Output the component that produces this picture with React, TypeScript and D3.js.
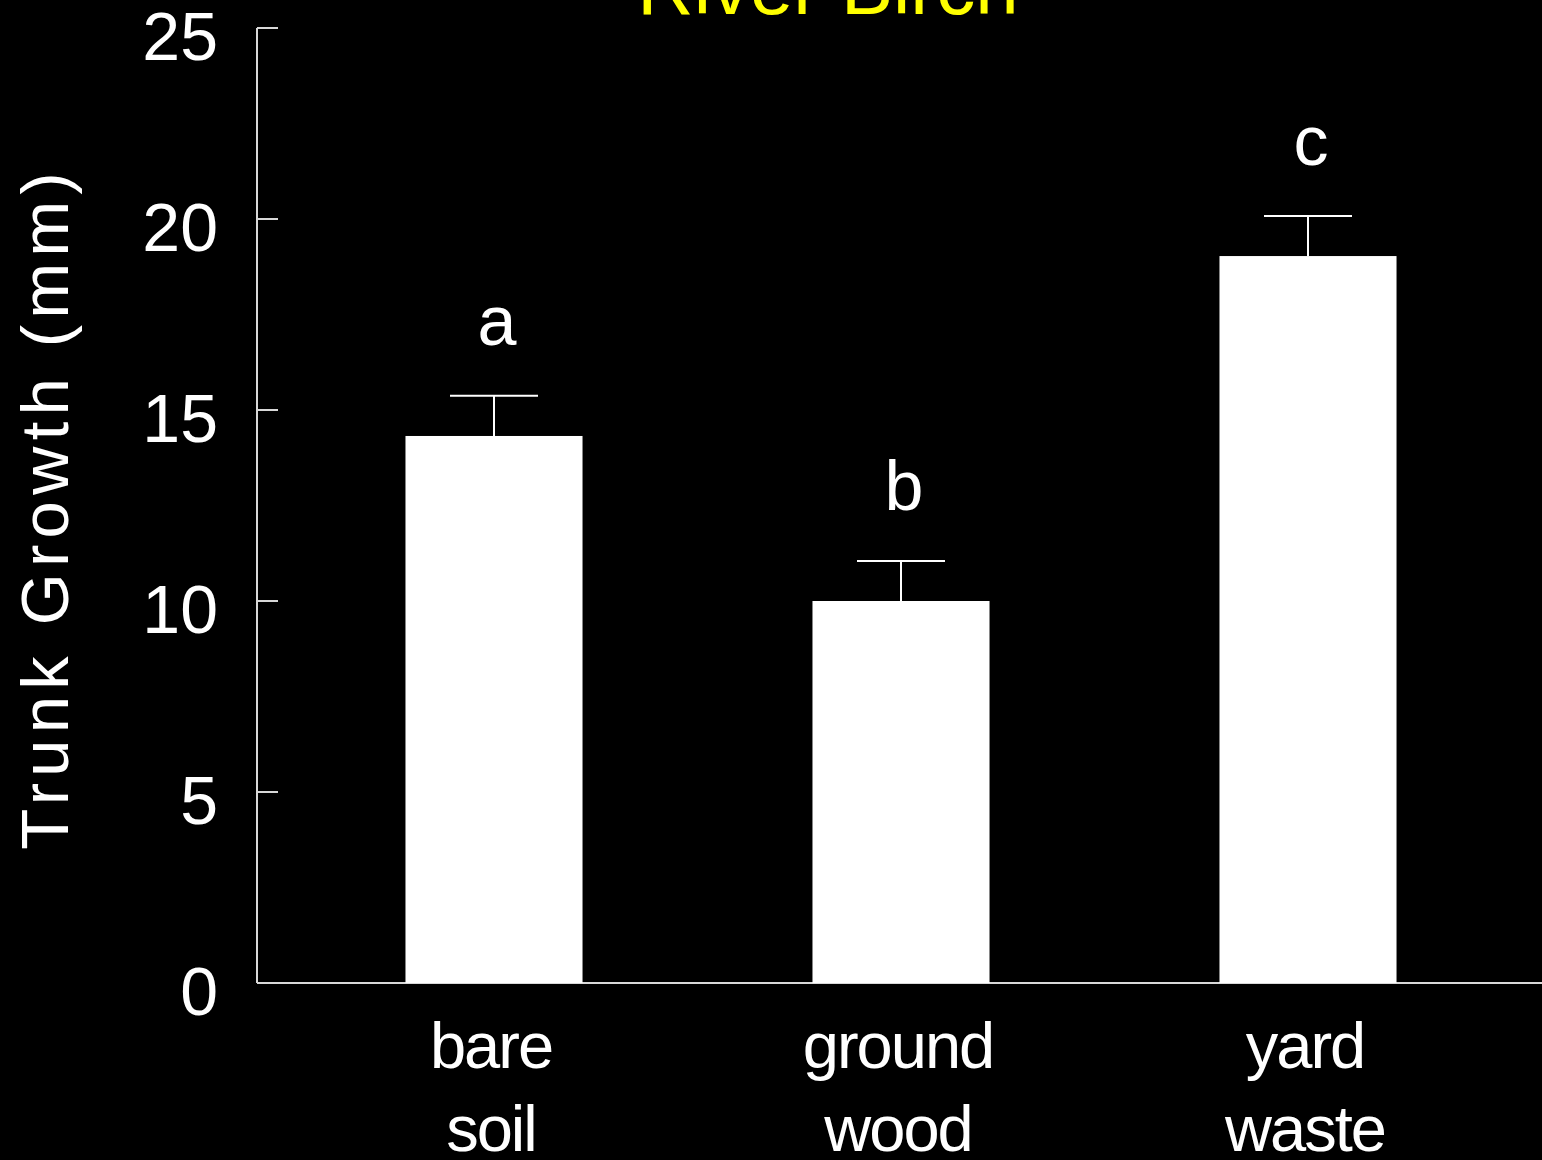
import React from "react";
import * as d3 from "d3";

const categories: string[][] = [["bare", "soil"], ["ground", "wood"], ["yard", "waste"]];
const categoryKeys = ["bare soil", "ground wood", "yard waste"];
const means = [14.32, 10.0, 19.03];
const errors = [1.05, 1.05, 1.05];
const letters = ["a", "b", "c"];
const yTicks = [0, 5, 10, 15, 20, 25];
const title = "River Birch";
const yTitle = "Trunk Growth (mm)";

const W = 1542;
const H = 1160;
const axisX = 257;
const axisY = 983;
const topY = 28;

export default function App() {
  const y = d3.scaleLinear().domain([0, 25]).range([axisY, topY]);
  const x = d3
    .scaleBand<string>()
    .domain(categoryKeys)
    .range([290.5, 1511.5])
    .paddingInner(0.565)
    .paddingOuter(0.2825);
  const bw = x.bandwidth();
  const font = "'Liberation Sans', Arial, Helvetica, sans-serif";
  const axisColor = "#d8d8d8";

  return (
    <svg
      width={W}
      height={H}
      style={{ position: "absolute", left: 0, top: 0, background: "#000", display: "block" }}
      fontFamily={font}
    >
      <rect x={0} y={0} width={W} height={H} fill="#000" />
      <text x={828} y={14} fill="#ffff00" fontSize={78} textAnchor="middle">
        {title}
      </text>
      {/* y axis */}
      <line x1={axisX} x2={axisX} y1={topY} y2={axisY} stroke={axisColor} strokeWidth={2} />
      {yTicks.map((t) => (
        <g key={t}>
          <line x1={axisX} x2={axisX + 21} y1={y(t)} y2={y(t)} stroke={axisColor} strokeWidth={2} />
          <text x={218} y={y(t) + 32} fill="#fff" fontSize={68} textAnchor="end">
            {t}
          </text>
        </g>
      ))}
      {/* x axis */}
      <line x1={axisX} x2={W} y1={axisY} y2={axisY} stroke={axisColor} strokeWidth={2} />
      {/* bars */}
      {categoryKeys.map((k, i) => {
        const x0 = x(k) as number;
        const cx = x0 + bw / 2;
        const top = y(means[i]);
        const eTop = y(means[i] + errors[i]);
        return (
          <g key={k}>
            <rect x={x0} y={top} width={bw} height={axisY - top} fill="#fff" />
            <line x1={cx} x2={cx} y1={top} y2={eTop} stroke="#fff" strokeWidth={2} />
            <line x1={cx - 44} x2={cx + 44} y1={eTop} y2={eTop} stroke="#fff" strokeWidth={2} />
            <text x={cx + 3} y={eTop - 51} fill="#fff" fontSize={70} textAnchor="middle">
              {letters[i]}
            </text>
            {categories[i].map((line, j) => (
              <text
                key={j}
                x={cx - 3}
                y={1068 + j * 83}
                fill="#fff"
                fontSize={65}
                letterSpacing={-2}
                textAnchor="middle"
              >
                {line}
              </text>
            ))}
          </g>
        );
      })}
      {/* y title */}
      <text
        transform={`translate(68, 508) rotate(-90)`}
        fill="#fff"
        fontSize={67}
        letterSpacing={6.2}
        textAnchor="middle"
      >
        {yTitle}
      </text>
    </svg>
  );
}
